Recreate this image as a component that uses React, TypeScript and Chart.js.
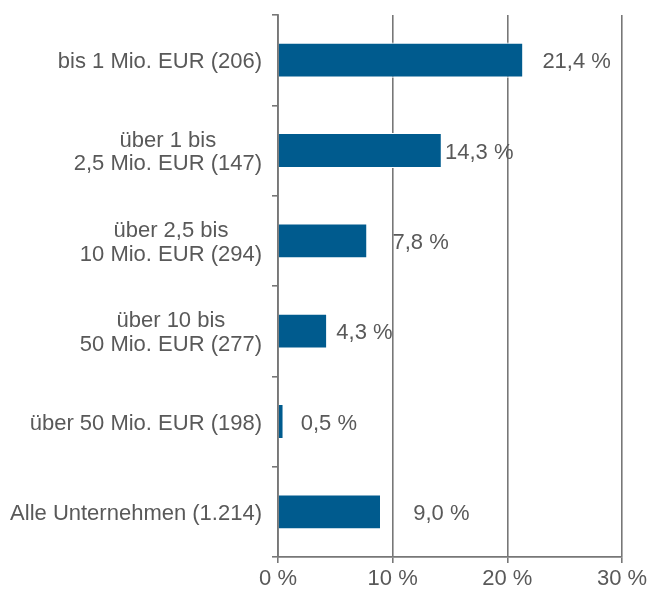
import React, { useEffect, useRef } from "react";
import { Chart, registerables } from "chart.js";

Chart.register(...registerables);

const categories: string[][] = [
  ["bis 1 Mio. EUR (206)"],
  ["über 1 bis", "2,5 Mio. EUR (147)"],
  ["über 2,5 bis", "10 Mio. EUR (294)"],
  ["über 10 bis", "50 Mio. EUR (277)"],
  ["über 50 Mio. EUR (198)"],
  ["Alle Unternehmen (1.214)"],
];
const values: number[] = [21.4, 14.3, 7.8, 4.3, 0.5, 9.0];
const xTicks: number[] = [0, 10, 20, 30];

// style: gap between bar end and value label (px)
const labelGaps = [19, 3, 25, 9, 17, 32];

const FONT = "'Liberation Sans', Arial, sans-serif";
const FONT_SIZE = 22;
const TEXT = "#595959";
const LINE = "#777777";
const BAR = "#005b8e";

const fmt = (v: number) => v.toFixed(1).replace(".", ",") + " %";

export default function App() {
  const ref = useRef<HTMLCanvasElement | null>(null);
  useEffect(() => {
    const canvas = ref.current;
    if (!canvas) return;
    const labelPlugin = {
      id: "customLabels",
      afterDatasetsDraw(chart: any) {
        const ctx = chart.ctx;
        const xs = chart.scales.x;
        const ys = chart.scales.y;
        ctx.save();
        ctx.font = `${FONT_SIZE}px ${FONT}`;
        ctx.fillStyle = TEXT;
        ctx.textBaseline = "middle";
        ctx.textAlign = "left";
        values.forEach((v, i) => {
          const x = xs.getPixelForValue(v) + labelGaps[i];
          const y = ys.getPixelForValue(i) + 2;
          ctx.fillText(fmt(v), x, y);
        });
        ctx.textAlign = "center";
        const rightEdge = ys.right - 16;
        const lh = 23.5;
        categories.forEach((lines, i) => {
          const maxW = Math.max(...lines.map((l) => ctx.measureText(l).width));
          const cx = rightEdge - maxW / 2;
          const cy = ys.getPixelForValue(i) + 2;
          const y0 = cy - ((lines.length - 1) * lh) / 2;
          lines.forEach((l, j) => ctx.fillText(l, cx, y0 + j * lh));
        });
        ctx.restore();
      },
    };
    const chart = new Chart(canvas, {
      type: "bar",
      data: {
        labels: categories.map((c) => c.join(" ")),
        datasets: [
          {
            data: values,
            backgroundColor: BAR,
            borderColor: "#ffffff",
            borderWidth: 1.2,
            categoryPercentage: 1,
            barPercentage: 0.39,
          },
        ],
      },
      options: {
        indexAxis: "y",
        animation: false,
        responsive: false,
        maintainAspectRatio: false,
        layout: { padding: { top: 15, right: 25, left: 0, bottom: 0 } },
        plugins: {
          legend: { display: false },
          tooltip: { enabled: false },
        },
        scales: {
          x: {
            type: "linear",
            min: 0,
            max: 30,
            afterBuildTicks: (scale: any) => {
              scale.ticks = xTicks.map((v) => ({ value: v }));
            },
            afterFit: (scale: any) => {
              scale.height = 35;
              scale.paddingRight = 0;
              scale.paddingLeft = 0;
            },
            ticks: {
              color: TEXT,
              font: { family: FONT, size: FONT_SIZE },
              padding: 3,
              callback: (v: any) => `${v} %`,
            },
            grid: {
              color: LINE,
              lineWidth: 1.6,
              drawOnChartArea: true,
              drawTicks: true,
              tickLength: 6,
            },
            border: { display: true, color: LINE, width: 1.8 },
          },
          y: {
            type: "category",
            offset: true,
            afterFit: (scale: any) => {
              scale.width = 278;
            },
            ticks: { display: false },
            grid: {
              offset: true,
              drawOnChartArea: false,
              drawTicks: true,
              tickLength: 6,
              color: LINE,
              lineWidth: 1.6,
            },
            border: { display: true, color: LINE, width: 1.8 },
          },
        },
      },
      plugins: [labelPlugin],
    } as any);
    return () => chart.destroy();
  }, []);
  return (
    <div style={{ position: "fixed", left: 0, top: 0, width: 647, height: 592, background: "#fff" }}>
      <canvas ref={ref} width={647} height={592} style={{ width: 647, height: 592, display: "block" }} />
    </div>
  );
}
